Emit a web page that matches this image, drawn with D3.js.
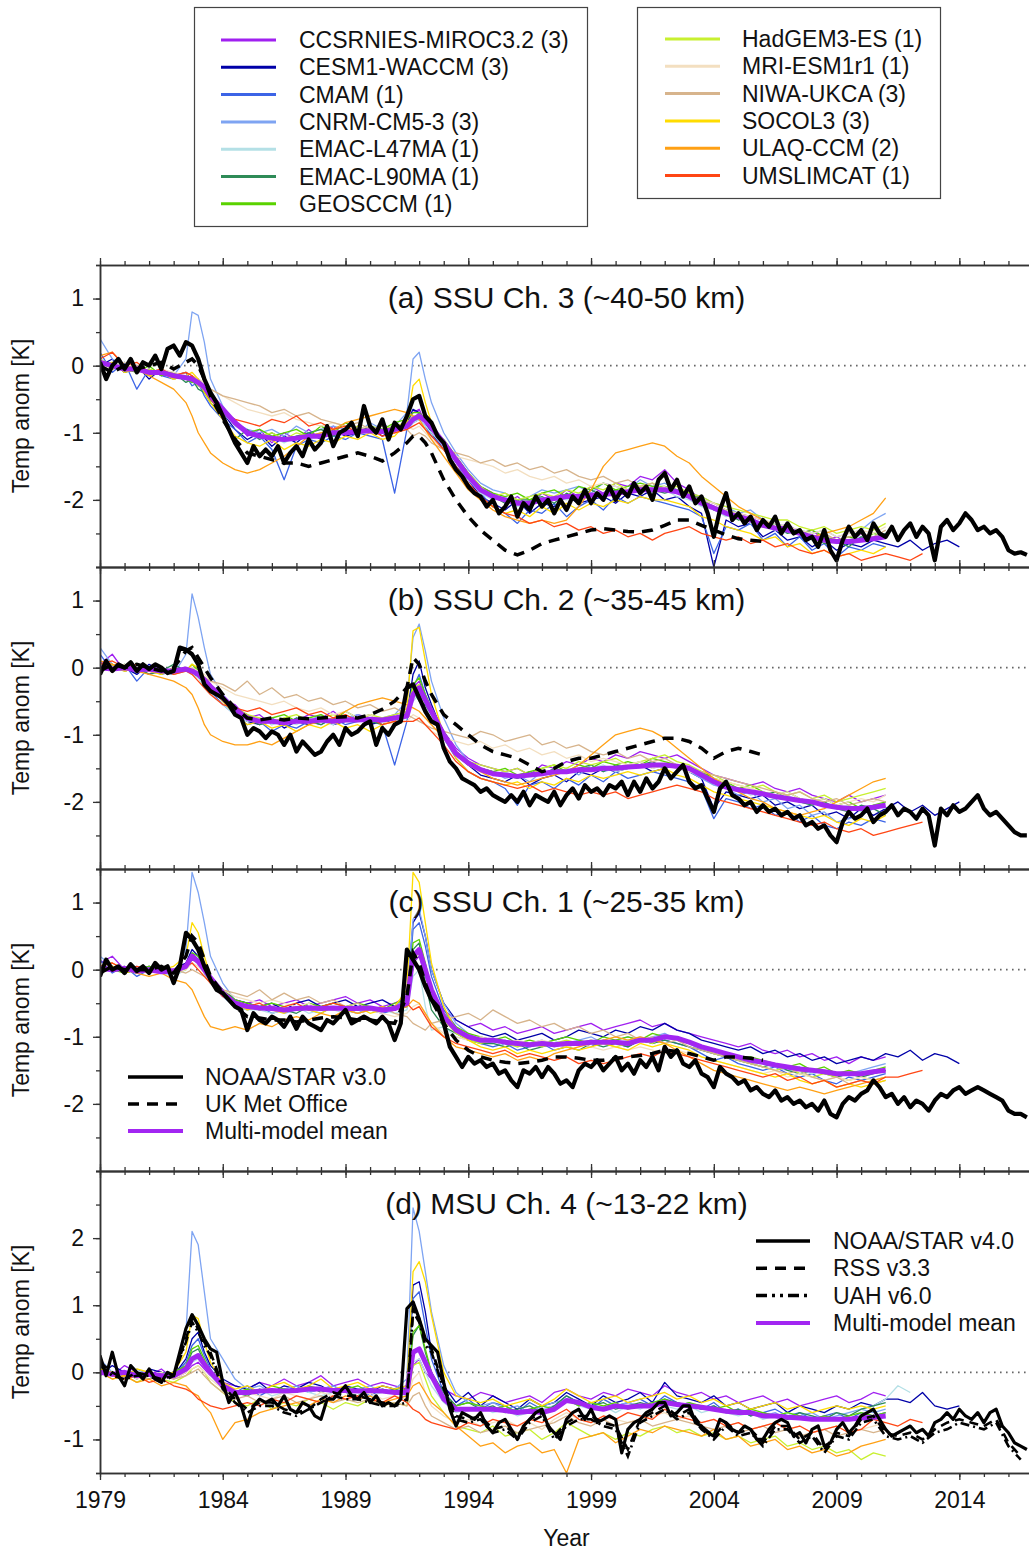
<!DOCTYPE html>
<html>
<head>
<meta charset="utf-8">
<script src="https://cdn.jsdelivr.net/npm/d3@7"></script>
<style>
  body { margin: 0; background: #fff; }
  svg { display: block; }
  text { font-family: "Liberation Sans", Arial, Helvetica, sans-serif; fill: #111; }
</style>
</head>
<body>
<svg id="chart" width="1029" height="1552"></svg>
<script>
// ---- time axes ----
// model / mean grid: half-yearly, quarterly around El Chichon and Pinatubo
const tModel = [1979, 1979.5, 1980, 1980.5, 1981, 1981.5, 1982, 1982.5, 1982.75, 1983, 1983.25, 1983.5,
  1984, 1984.5, 1985, 1985.5, 1986, 1986.5, 1987, 1987.5, 1988, 1988.5, 1989, 1989.5, 1990, 1990.5, 1991, 1991.5,
  1991.75, 1992, 1992.25, 1992.5,
  1993, 1993.5, 1994, 1994.5, 1995, 1995.5, 1996, 1996.5, 1997, 1997.5, 1998, 1998.5, 1999, 1999.5,
  2000, 2000.5, 2001, 2001.5, 2002, 2002.5, 2003, 2003.5, 2004, 2004.5, 2005, 2005.5, 2006, 2006.5,
  2007, 2007.5, 2008, 2008.5, 2009, 2009.5, 2010, 2010.5, 2011,
  2011.5, 2012, 2012.5, 2013, 2013.5, 2014];
const tLong = tModel.concat([2014.5, 2015, 2015.5, 2016, 2016.5]);
const tObs = d3.range(152).map(i => 1979 + i / 4);   // quarterly 1979.0 - 2016.75

const modelNames = ['CCSRNIES-MIROC3.2 (3)', 'CESM1-WACCM (3)', 'CMAM (1)', 'CNRM-CM5-3 (3)', 'EMAC-L47MA (1)',
  'EMAC-L90MA (1)', 'GEOSCCM (1)', 'HadGEM3-ES (1)', 'MRI-ESM1r1 (1)', 'NIWA-UKCA (3)', 'SOCOL3 (3)',
  'ULAQ-CCM (2)', 'UMSLIMCAT (1)'];
const modelColors = ['#a020f0', '#0000a8', '#3c64e6', '#7ea4f2', '#b4e0e6', '#2e8b57', '#5ad200',
  '#c8f030', '#f3dfc0', '#d7b48c', '#ffdc00', '#ffa014', '#ff4614'];

// ================= (a) SSU Ch. 3 =================
const a_noaa = [0.05,-0.2,0.0,0.1, -0.05,0.1,-0.1,0.05, 0.0,0.15,-0.05,0.25, 0.3,0.15,0.35,0.3,
  0.1,-0.2,-0.4,-0.55, -0.75,-0.95,-1.15,-1.3, -1.45,-1.2,-1.35,-1.25, -1.35,-1.2,-1.45,-1.3,
  -1.2,-1.35,-1.1,-1.25, -1.15,-0.9,-1.2,-1.0, -0.95,-0.85,-1.05,-0.6, -0.9,-1.0,-0.8,-1.1,
  -0.85,-0.95,-0.75,-0.5, -0.45,-0.75,-0.85,-1.05, -1.15,-1.4,-1.55,-1.65, -1.8,-1.9,-1.95,-2.1,
  -2.0,-2.2,-2.1,-1.95, -2.25,-2.05,-2.15,-1.95, -2.1,-2.0,-2.2,-2.0, -2.15,-1.95,-2.05,-1.85,
  -2.05,-1.9,-2.0,-1.8, -2.0,-1.85,-1.95,-1.75, -1.9,-1.8,-2.0,-1.7, -1.6,-1.85,-1.7,-1.95,
  -1.8,-2.05,-1.95,-2.2, -2.55,-2.15,-1.9,-2.3, -2.2,-2.35,-2.25,-2.45, -2.3,-2.4,-2.25,-2.5,
  -2.35,-2.5,-2.45,-2.6, -2.55,-2.7,-2.45,-2.75, -2.9,-2.6,-2.4,-2.55, -2.45,-2.6,-2.35,-2.5,
  -2.55,-2.4,-2.6,-2.45, -2.35,-2.55,-2.4,-2.5, -2.9,-2.4,-2.3,-2.45, -2.35,-2.2,-2.3,-2.45,
  -2.4,-2.5,-2.45,-2.55, -2.75,-2.8,-2.78,-2.82];
const a_ukmo = [0.0,-0.1,0.0,-0.05,0.0,0.05,-0.05,0.05, 0.1,0.0,-0.2,-0.45,
  -0.8,-1.1,-1.3,-1.35,-1.4,-1.45,-1.45,-1.5,-1.45,-1.4,-1.35,-1.3,-1.35,-1.42,-1.3,-1.15,
  -1.05,-1.05,-1.15,-1.3,
  -1.7,-2.0,-2.25,-2.45,-2.6,-2.75,-2.82,-2.75,-2.65,-2.6,-2.55,-2.5,-2.45,-2.43,-2.45,-2.47,-2.48,-2.45,
  -2.38,-2.3,-2.3,-2.38,-2.45,-2.52,-2.58,-2.6,-2.62];
const a_mean = [0.05,0.0,-0.05,-0.05,-0.1,-0.1,-0.15,-0.18, -0.2,-0.25,-0.32,-0.45,
  -0.65,-0.85,-1.0,-1.05,-1.08,-1.1,-1.08,-1.05,-1.05,-1.0,-1.0,-0.98,-0.97,-0.98,-0.95,-0.9,
  -0.8,-0.75,-0.82,-0.92,
  -1.15,-1.4,-1.65,-1.85,-1.95,-2.0,-2.05,-2.05,-2.0,-1.98,-1.95,-1.95,-1.93,-1.92,-1.9,-1.88,-1.85,-1.85,
  -1.85,-1.88,-1.95,-2.05,-2.12,-2.2,-2.25,-2.3,-2.38,-2.42,-2.45,-2.5,-2.55,-2.6,-2.62,-2.62,-2.6,-2.58,-2.55];
const a_ccsrnies = [0.1,-0.05,0.0,-0.1,-0.05,-0.15,-0.1,-0.2, -0.15,-0.3,-0.35,-0.5,
  -0.7,-0.8,-1.05,-0.95,-1.15,-1.0,-1.1,-0.95,-1.1,-0.9,-1.05,-0.9,-1.0,-0.85,-1.0,-0.85,
  -0.7,-0.65,-0.85,-0.9,
  -1.2,-1.35,-1.6,-1.8,-1.9,-2.05,-1.95,-2.1,-1.9,-2.0,-1.85,-1.95,-1.8,-1.9,-1.75,-1.8,-1.65,-1.7,-1.55,-1.75,
  -1.85,-2.0,-2.05,-2.15,-2.2,-2.25,-2.3,-2.45,-2.35,-2.5,-2.45,-2.6,-2.55,-2.65,-2.5,-2.6,-2.5];
const a_cesm = [0.0,0.1,-0.1,0.0,-0.2,-0.05,-0.15,-0.1, -0.25,-0.2,-0.4,-0.5,
  -0.7,-0.95,-1.1,-1.0,-1.2,-1.05,-1.15,-1.0,-1.1,-0.95,-1.05,-1.0,-0.9,-1.05,-0.95,-0.85,
  -0.65,-0.7,-0.85,-1.0,
  -1.25,-1.5,-1.7,-1.95,-2.05,-2.15,-2.0,-2.2,-2.05,-2.1,-1.95,-2.05,-2.0,-1.95,-2.05,-1.9,-1.95,-1.85,-2.0,-1.95,
  -2.1,-2.2,-3.0,-2.3,-2.4,-2.35,-2.55,-2.45,-2.6,-2.55,-2.7,-2.6,-2.75,-2.65,-2.7,-2.6,-2.65,
  -2.7,-2.6,-2.75,-2.65,-2.6,-2.7];
const a_cmam = [0.2,-0.1,0.05,-0.35,-0.05,-0.15,-0.2,-0.15, -0.3,-0.25,-0.45,-0.6,
  -0.8,-0.95,-1.15,-1.05,-1.25,-1.7,-1.2,-1.1,-1.15,-1.05,-1.1,-1.0,-1.05,-1.1,-1.9,-0.95,
  -0.85,-0.8,-0.9,-1.05,
  -1.2,-1.5,-1.7,-1.9,-2.1,-2.2,-2.35,-2.15,-2.2,-2.05,-2.25,-2.1,-2.0,-2.15,-1.95,-2.05,-1.95,-2.0,-2.05,-2.1,
  -2.15,-2.25,-2.8,-2.4,-2.45,-2.35,-2.6,-2.5,-2.7,-2.55,-2.75,-2.65,-2.85,-2.7,-2.75,-2.65,-2.7];
const a_cnrm = [0.4,0.1,0.0,-0.05,-0.1,-0.05,-0.15,0.1, 0.8,0.75,0.35,-0.2,
  -0.6,-0.85,-0.95,-1.0,-0.95,-1.05,-0.9,-1.0,-0.95,-0.9,-0.95,-1.0,-0.85,-0.95,-0.9,-0.7,
  0.1,0.2,-0.2,-0.55,
  -1.0,-1.3,-1.55,-1.75,-1.85,-1.9,-2.0,-1.95,-1.85,-1.9,-1.85,-1.8,-1.9,-1.75,-1.8,-1.85,-1.7,-1.8,-1.75,-1.85,
  -1.9,-1.95,-2.05,-2.1,-2.2,-2.15,-2.3,-2.35,-2.4,-2.45,-2.5,-2.45,-2.55,-2.5,-2.45,-2.3,-2.2];
const a_emac47 = [0.05,0.0,-0.05,0.0,-0.1,-0.05,-0.2,-0.15, -0.25,-0.3,-0.35,-0.5,
  -0.7,-0.9,-1.0,-1.1,-1.05,-1.15,-1.05,-1.1,-1.0,-1.05,-0.95,-1.0,-1.0,-0.95,-1.0,-0.9,
  -0.85,-0.8,-0.9,-1.0,
  -1.2,-1.45,-1.7,-1.9,-2.0,-1.95,-2.1,-2.0,-2.05,-1.95,-2.0,-1.9,-1.95,-1.9,-1.85,-1.9,-1.8,-1.9,-1.85,-1.95,
  -2.0,-2.1,-2.15,-2.25,-2.2,-2.35,-2.4,-2.45,-2.5,-2.45,-2.6,-2.55,-2.65,-2.6,-2.55,-2.6,-2.5];
const a_emac90 = [0.0,0.05,-0.1,-0.05,-0.15,-0.1,-0.1,-0.25, -0.2,-0.35,-0.4,-0.55,
  -0.75,-1.1,-0.95,-1.1,-1.0,-1.1,-1.05,-1.0,-0.95,-1.05,-0.95,-1.0,-0.9,-1.0,-0.95,-0.85,
  -0.8,-0.7,-0.85,-0.95,
  -1.15,-1.4,-1.6,-1.85,-1.95,-2.05,-2.0,-2.0,-1.95,-2.05,-1.9,-2.0,-1.85,-1.95,-1.85,-1.9,-1.8,-1.85,-1.9,-1.85,
  -1.95,-2.0,-2.15,-2.2,-2.3,-2.25,-2.4,-2.35,-2.5,-2.45,-2.55,-2.65,-2.6,-2.7,-2.55,-2.6,-2.5];
const a_geos = [0.1,0.0,-0.05,-0.1,0.0,-0.15,-0.1,-0.2, -0.25,-0.2,-0.4,-0.5,
  -0.7,-0.85,-1.0,-0.95,-1.05,-1.0,-0.95,-1.05,-0.9,-1.0,-0.85,-0.95,-0.9,-0.95,-0.85,-0.8,
  -0.7,-0.7,-0.8,-0.95,
  -1.1,-1.35,-1.6,-1.8,-1.9,-1.95,-1.9,-2.0,-1.9,-1.85,-1.95,-1.8,-1.85,-1.75,-1.85,-1.8,-1.75,-1.8,-1.8,-1.85,
  -1.9,-2.0,-2.1,-2.15,-2.2,-2.3,-2.35,-2.4,-2.45,-2.5,-2.45,-2.55,-2.6,-2.55,-2.6,-2.5,-2.55];
const a_hadgem = [0.05,-0.05,0.0,-0.1,-0.05,-0.1,-0.2,-0.15, -0.2,-0.3,-0.35,-0.45,
  -0.65,-0.85,-1.0,-1.05,-1.0,-1.1,-1.0,-1.05,-1.0,-0.95,-1.0,-0.9,-1.0,-0.95,-0.9,-0.85,
  -0.75,-0.75,-0.85,-0.95,
  -1.15,-1.4,-1.6,-1.8,-1.95,-1.9,-2.0,-1.95,-1.9,-1.95,-1.85,-1.9,-1.8,-1.85,-1.75,-1.85,-1.8,-1.75,-1.85,-1.8,
  -1.9,-1.95,-2.05,-2.1,-2.15,-2.2,-2.25,-2.3,-2.3,-2.4,-2.45,-2.4,-2.5,-2.45,-2.4,-2.45,-2.35];
const a_mri = [0.1,0.0,0.05,-0.05,-0.1,-0.05,-0.1,-0.15, -0.1,-0.2,-0.25,-0.35,
  -0.45,-0.55,-0.65,-0.7,-0.75,-0.7,-0.8,-0.85,-0.9,-0.85,-0.9,-0.95,-0.9,-1.0,-0.95,-0.9,
  -0.95,-0.9,-1.0,-1.1,
  -1.25,-1.35,-1.4,-1.45,-1.5,-1.6,-1.55,-1.65,-1.7,-1.65,-1.75,-1.7,-1.8,-1.75,-1.8,-1.85,-1.8,-1.85,-1.8,-1.9,
  -1.95,-2.0,-2.05,-2.15,-2.2,-2.25,-2.3,-2.35,-2.4,-2.45,-2.5,-2.45,-2.55,-2.5,-2.45,-2.5,-2.4];
const a_niwa = [0.05,0.0,-0.05,0.0,-0.1,-0.05,-0.15,-0.1, -0.15,-0.2,-0.3,-0.35,
  -0.45,-0.5,-0.55,-0.6,-0.7,-0.65,-0.75,-0.7,-0.8,-0.85,-0.9,-0.85,-0.95,-0.9,-1.0,-0.95,
  -1.05,-1.0,-1.05,-1.15,
  -1.25,-1.3,-1.35,-1.45,-1.4,-1.5,-1.45,-1.55,-1.5,-1.6,-1.55,-1.65,-1.7,-1.65,-1.75,-1.7,-1.8,-1.75,-1.85,-1.9,
  -1.95,-2.05,-2.1,-2.2,-2.25,-2.3,-2.35,-2.4,-2.45,-2.5,-2.55,-2.5,-2.6,-2.55,-2.5,-2.55,-2.45];
const a_socol = [0.0,0.05,-0.1,-0.05,-0.15,-0.1,-0.2,-0.15, -0.1,-0.2,-0.4,-0.55,
  -0.8,-1.05,-1.15,-1.2,-1.1,-1.25,-1.15,-1.2,-1.1,-1.15,-1.05,-1.1,-1.0,-1.1,-1.05,-0.85,
  -0.3,-0.2,-0.55,-0.85,
  -1.2,-1.55,-1.8,-2.0,-2.1,-2.2,-2.15,-2.25,-2.1,-2.2,-2.05,-2.15,-2.05,-2.1,-2.0,-2.05,-1.95,-2.0,-2.0,-2.05,
  -2.1,-2.25,-2.3,-2.4,-2.45,-2.5,-2.6,-2.55,-2.7,-2.65,-2.8,-2.75,-2.85,-2.8,-2.75,-2.8,-2.7];
const a_ulaq = [0.15,0.2,0.0,-0.05,-0.15,-0.25,-0.35,-0.55, -0.75,-1.0,-1.15,-1.3,
  -1.45,-1.55,-1.6,-1.55,-1.45,-1.35,-1.2,-1.05,-1.0,-0.95,-0.85,-0.8,-0.75,-0.7,-0.65,-0.7,
  -0.75,-0.8,-0.95,-1.1,
  -1.35,-1.6,-1.85,-2.0,-2.15,-2.25,-2.3,-2.35,-2.3,-2.35,-2.3,-2.1,-1.85,-1.5,-1.3,-1.25,-1.2,-1.15,-1.2,-1.35,
  -1.45,-1.65,-1.8,-1.95,-2.1,-2.2,-2.3,-2.4,-2.45,-2.5,-2.55,-2.5,-2.45,-2.4,-2.3,-2.2,-1.97];
const a_umslim = [0.1,0.2,0.0,0.05,-0.1,-0.05,-0.15,-0.1, -0.15,-0.25,-0.35,-0.5,
  -0.7,-0.8,-0.85,-0.9,-0.8,-0.85,-0.75,-0.9,-0.85,-0.95,-0.9,-1.0,-0.95,-1.05,-1.0,-0.95,
  -0.9,-0.85,-0.95,-1.05,
  -1.25,-1.5,-1.75,-1.95,-2.1,-2.2,-2.25,-2.35,-2.3,-2.4,-2.35,-2.45,-2.4,-2.5,-2.45,-2.55,-2.5,-2.6,-2.5,-2.45,
  -2.4,-2.5,-2.55,-2.6,-2.55,-2.65,-2.6,-2.7,-2.65,-2.75,-2.8,-2.75,-2.85,-2.8,-2.9,-2.85,-2.8,
  -2.85,-2.9,-2.8];

// ================= (b) SSU Ch. 2 =================
const b_noaa = [-0.1,0.1,-0.05,0.05, 0.0,0.08,-0.05,0.05, -0.02,0.05,0.0,-0.08, -0.05,0.3,0.27,0.2,
  0.05,-0.25,-0.35,-0.4, -0.45,-0.55,-0.7,-0.75, -1.0,-0.9,-0.95,-1.05, -0.95,-1.0,-1.15,-1.0,
  -1.25,-1.1,-1.2,-1.3, -1.25,-1.1,-1.0,-1.15, -0.9,-1.0,-0.95,-0.85, -0.8,-1.15,-0.9,-1.0,
  -0.85,-0.8,-0.3,-0.25, -0.45,-0.65,-0.8,-0.85, -1.2,-1.4,-1.5,-1.65, -1.7,-1.75,-1.85,-1.8,
  -1.9,-1.95,-2.0,-1.9, -2.0,-1.85,-2.05,-1.9, -1.95,-2.0,-1.85,-2.05, -1.9,-1.8,-1.95,-1.75,
  -1.85,-1.8,-1.9,-1.75, -1.8,-1.7,-1.9,-1.7, -1.85,-1.65,-1.8,-1.7, -1.5,-1.65,-1.55,-1.45,
  -1.7,-1.8,-1.75,-1.95, -2.15,-1.8,-1.7,-1.9, -1.95,-2.05,-2.0,-2.15, -2.05,-2.15,-2.1,-2.2,
  -2.15,-2.25,-2.2,-2.35, -2.3,-2.4,-2.35,-2.5, -2.6,-2.3,-2.15,-2.25, -2.2,-2.1,-2.3,-2.2,
  -2.15,-2.05,-2.2,-2.1, -2.15,-2.25,-2.1,-2.2, -2.65,-2.1,-2.2,-2.05, -2.15,-2.1,-2.0,-1.9,
  -2.1,-2.2,-2.15,-2.25, -2.35,-2.45,-2.5,-2.5];
const b_ukmo = [-0.05,0.05,0.0,0.05,0.0,-0.05,0.0,0.25, 0.3,0.15,0.0,-0.15,
  -0.4,-0.6,-0.75,-0.78,-0.75,-0.78,-0.75,-0.76,-0.75,-0.74,-0.73,-0.75,-0.7,-0.62,-0.5,-0.3,
  0.15,0.05,-0.2,-0.4,
  -0.7,-0.85,-1.0,-1.15,-1.25,-1.3,-1.35,-1.45,-1.55,-1.5,-1.4,-1.35,-1.35,-1.3,-1.25,-1.2,-1.15,-1.1,
  -1.05,-1.05,-1.1,-1.2,-1.35,-1.25,-1.2,-1.25,-1.3];
const b_mean = [0.0,-0.02,0.0,-0.03,-0.02,-0.05,-0.05,-0.02, -0.05,-0.1,-0.18,-0.28,
  -0.45,-0.62,-0.75,-0.8,-0.8,-0.82,-0.8,-0.8,-0.78,-0.8,-0.78,-0.78,-0.77,-0.78,-0.75,-0.72,
  -0.4,-0.3,-0.48,-0.65,
  -1.0,-1.28,-1.42,-1.52,-1.58,-1.6,-1.62,-1.6,-1.58,-1.55,-1.55,-1.52,-1.52,-1.5,-1.5,-1.48,-1.47,-1.45,
  -1.45,-1.47,-1.5,-1.6,-1.7,-1.78,-1.82,-1.85,-1.88,-1.92,-1.95,-1.98,-2.0,-2.05,-2.08,-2.1,-2.1,-2.08,-2.05];
const b_ccsrnies = [0.05,0.2,-0.05,0.0,-0.1,0.0,-0.1,0.0, 0.0,-0.05,-0.2,-0.25,
  -0.5,-0.55,-0.75,-0.7,-0.85,-0.75,-0.8,-0.7,-0.75,-0.65,-0.8,-0.7,-0.75,-0.8,-0.7,-0.65,
  -0.3,-0.2,-0.45,-0.6,
  -0.95,-1.2,-1.35,-1.45,-1.5,-1.55,-1.5,-1.6,-1.45,-1.5,-1.4,-1.45,-1.35,-1.4,-1.3,-1.35,-1.25,-1.3,-1.35,-1.3,
  -1.4,-1.5,-1.6,-1.65,-1.7,-1.75,-1.7,-1.8,-1.85,-1.8,-1.9,-1.95,-2.0,-1.9,-2.0,-1.95,-1.9];
const b_cesm = [-0.05,0.05,0.0,-0.1,0.05,-0.05,-0.1,0.0, -0.05,-0.15,-0.2,-0.3,
  -0.5,-0.7,-0.8,-0.85,-0.75,-0.9,-0.8,-0.85,-0.75,-0.85,-0.8,-0.75,-0.85,-0.8,-0.75,-0.7,
  -0.1,0.1,-0.3,-0.55,
  -1.0,-1.3,-1.45,-1.6,-1.65,-1.7,-1.6,-1.75,-1.65,-1.6,-1.7,-1.55,-1.6,-1.5,-1.55,-1.5,-1.45,-1.55,-1.5,-1.45,
  -1.55,-1.65,-2.1,-1.85,-1.9,-1.95,-1.9,-2.05,-2.0,-2.1,-2.05,-2.2,-2.15,-2.25,-2.1,-2.2,-2.1,
  -2.0,-2.15,-2.05,-2.2,-2.1,-2.0];
const b_cmam = [0.2,-0.05,0.05,-0.2,0.0,-0.1,-0.05,0.0, -0.05,-0.1,-0.25,-0.35,
  -0.55,-0.7,-0.85,-0.8,-0.95,-0.85,-0.9,-0.8,-0.85,-0.75,-0.85,-0.8,-0.75,-0.85,-1.45,-0.8,
  -0.3,-0.1,-0.4,-0.6,
  -1.05,-1.35,-1.55,-1.65,-1.7,-1.8,-2.05,-1.75,-1.7,-1.8,-1.65,-1.75,-1.6,-1.7,-1.55,-1.65,-1.6,-1.55,-1.6,-1.65,
  -1.7,-1.8,-2.25,-1.95,-2.0,-2.1,-2.05,-2.2,-2.15,-2.3,-2.2,-2.35,-2.4,-2.3,-2.35,-2.25,-2.3];
const b_cnrm = [0.3,0.05,0.0,-0.05,-0.05,0.0,-0.1,0.2, 1.1,0.75,0.3,-0.1,
  -0.4,-0.6,-0.75,-0.8,-0.75,-0.85,-0.75,-0.8,-0.7,-0.8,-0.75,-0.7,-0.8,-0.75,-0.7,-0.5,
  0.45,0.65,0.25,-0.2,
  -0.75,-1.15,-1.4,-1.5,-1.55,-1.65,-1.6,-1.7,-1.55,-1.6,-1.5,-1.6,-1.45,-1.55,-1.5,-1.45,-1.4,-1.5,-1.45,-1.5,
  -1.55,-1.65,-1.75,-1.8,-1.9,-1.85,-2.0,-1.95,-2.1,-2.05,-2.2,-2.15,-2.3,-2.25,-2.2,-2.1,-2.0];
const b_emac47 = [0.05,-0.05,0.0,0.05,-0.05,-0.1,0.0,-0.05, -0.1,-0.15,-0.3,-0.4,
  -0.55,-0.7,-0.8,-0.75,-0.85,-0.8,-0.85,-0.75,-0.8,-0.85,-0.75,-0.8,-0.8,-0.75,-0.8,-0.75,
  -0.5,-0.4,-0.6,-0.7,
  -1.05,-1.3,-1.45,-1.5,-1.6,-1.55,-1.65,-1.6,-1.55,-1.6,-1.5,-1.55,-1.5,-1.45,-1.55,-1.5,-1.4,-1.45,-1.5,-1.45,
  -1.5,-1.6,-1.7,-1.75,-1.8,-1.9,-1.85,-1.95,-1.9,-2.0,-2.05,-2.0,-2.1,-2.05,-2.15,-2.05,-2.1];
const b_emac90 = [0.0,0.05,-0.05,0.0,-0.1,-0.05,0.05,-0.05, -0.05,-0.1,-0.2,-0.3,
  -0.5,-0.65,-0.75,-0.85,-0.8,-0.85,-0.75,-0.8,-0.85,-0.75,-0.8,-0.75,-0.8,-0.85,-0.75,-0.7,
  -0.35,-0.5,-0.55,-0.7,
  -1.0,-1.25,-1.4,-1.5,-1.55,-1.6,-1.65,-1.55,-1.6,-1.5,-1.55,-1.5,-1.45,-1.55,-1.45,-1.5,-1.45,-1.4,-1.5,-1.45,
  -1.5,-1.55,-1.65,-1.75,-1.8,-1.85,-1.9,-1.85,-1.95,-2.0,-2.05,-2.0,-2.1,-2.15,-2.05,-2.1,-2.2];
const b_geos = [0.0,-0.05,0.05,-0.05,0.0,-0.1,0.0,-0.05, 0.05,-0.05,-0.15,-0.3,
  -0.45,-0.6,-0.7,-0.8,-0.75,-0.7,-0.8,-0.75,-0.7,-0.8,-0.65,-0.75,-0.7,-0.8,-0.75,-0.65,
  -0.25,-0.15,-0.4,-0.6,
  -0.95,-1.25,-1.4,-1.5,-1.55,-1.5,-1.6,-1.55,-1.5,-1.45,-1.55,-1.45,-1.5,-1.4,-1.45,-1.4,-1.45,-1.35,-1.4,-1.45,
  -1.5,-1.55,-1.65,-1.7,-1.8,-1.75,-1.85,-1.9,-1.85,-1.95,-2.0,-1.95,-2.05,-2.0,-2.1,-2.05,-2.0];
const b_hadgem = [0.05,0.0,-0.05,0.0,-0.05,0.0,-0.1,0.0, 0.0,-0.1,-0.2,-0.3,
  -0.45,-0.6,-0.7,-0.75,-0.8,-0.75,-0.7,-0.8,-0.75,-0.7,-0.75,-0.8,-0.7,-0.75,-0.7,-0.65,
  -0.3,-0.25,-0.45,-0.65,
  -1.0,-1.25,-1.4,-1.45,-1.5,-1.55,-1.5,-1.6,-1.5,-1.45,-1.5,-1.4,-1.45,-1.4,-1.35,-1.45,-1.4,-1.35,-1.3,-1.4,
  -1.45,-1.55,-1.6,-1.7,-1.75,-1.8,-1.75,-1.85,-1.9,-1.85,-1.95,-1.9,-2.0,-1.95,-1.9,-1.85,-1.8];
const b_mri = [0.05,0.0,0.05,-0.05,0.0,-0.05,-0.05,0.0, 0.0,-0.05,-0.1,-0.2,
  -0.3,-0.4,-0.45,-0.5,-0.55,-0.5,-0.6,-0.65,-0.6,-0.7,-0.65,-0.75,-0.7,-0.8,-0.85,-0.8,
  -0.7,-0.75,-0.85,-0.95,
  -1.05,-1.1,-1.15,-1.1,-1.2,-1.15,-1.25,-1.2,-1.3,-1.25,-1.35,-1.3,-1.4,-1.35,-1.4,-1.45,-1.4,-1.5,-1.45,-1.5,
  -1.55,-1.6,-1.65,-1.7,-1.75,-1.8,-1.85,-1.9,-1.85,-1.95,-2.0,-1.95,-2.05,-2.0,-1.95,-2.0,-1.9];
const b_niwa = [0.0,0.05,-0.05,0.0,-0.05,0.0,-0.1,-0.05, -0.05,-0.1,-0.15,-0.2,
  -0.25,-0.35,-0.2,-0.4,-0.3,-0.45,-0.4,-0.5,-0.45,-0.55,-0.5,-0.6,-0.55,-0.65,-0.6,-0.7,
  -0.75,-0.8,-0.85,-0.9,
  -0.95,-1.0,-1.05,-0.95,-1.0,-1.1,-1.05,-1.0,-1.15,-1.1,-1.2,-1.15,-1.25,-1.3,-1.25,-1.35,-1.3,-1.4,-1.35,-1.45,
  -1.5,-1.55,-1.6,-1.65,-1.7,-1.75,-1.8,-1.85,-1.9,-1.85,-1.95,-2.0,-1.95,-2.05,-2.0,-1.95,-2.0];
const b_socol = [0.0,0.05,-0.05,0.0,-0.05,-0.1,0.0,-0.05, 0.05,0.0,-0.15,-0.3,
  -0.5,-0.7,-0.85,-0.8,-0.9,-0.85,-0.95,-0.85,-0.9,-0.8,-0.9,-0.85,-0.95,-0.85,-0.8,-0.6,
  0.55,0.6,0.1,-0.4,
  -1.0,-1.35,-1.55,-1.65,-1.7,-1.75,-1.7,-1.8,-1.7,-1.75,-1.65,-1.7,-1.6,-1.65,-1.6,-1.55,-1.6,-1.55,-1.5,-1.6,
  -1.65,-1.75,-1.85,-1.9,-1.95,-2.0,-2.05,-2.1,-2.15,-2.2,-2.25,-2.2,-2.3,-2.35,-2.25,-2.3,-2.2];
const b_ulaq = [0.1,0.05,0.0,-0.05,-0.1,-0.15,-0.2,-0.3, -0.4,-0.6,-0.85,-1.0,
  -1.1,-1.15,-1.15,-1.1,-1.15,-1.05,-0.95,-0.85,-0.8,-0.75,-0.65,-0.55,-0.5,-0.45,-0.5,-0.55,
  -0.6,-0.65,-0.75,-0.85,
  -1.05,-1.3,-1.45,-1.55,-1.65,-1.7,-1.75,-1.7,-1.65,-1.6,-1.55,-1.45,-1.3,-1.15,-1.0,-0.95,-0.9,-0.95,-1.05,-1.2,
  -1.35,-1.5,-1.65,-1.75,-1.85,-1.95,-2.0,-2.1,-2.15,-2.2,-2.15,-2.1,-2.0,-1.9,-1.8,-1.7,-1.65];
const b_umslim = [0.05,0.1,0.0,0.05,-0.05,0.0,-0.1,-0.05, -0.1,-0.2,-0.3,-0.4,
  -0.55,-0.6,-0.65,-0.6,-0.7,-0.65,-0.6,-0.7,-0.65,-0.75,-0.7,-0.8,-0.75,-0.85,-0.8,-0.8,
  -0.8,-0.75,-0.85,-0.95,
  -1.15,-1.4,-1.55,-1.65,-1.7,-1.75,-1.8,-1.75,-1.85,-1.8,-1.85,-1.9,-1.85,-1.9,-1.85,-1.95,-1.9,-1.85,-1.8,-1.75,
  -1.8,-1.85,-1.95,-2.0,-2.05,-2.1,-2.15,-2.2,-2.25,-2.3,-2.35,-2.3,-2.4,-2.45,-2.4,-2.5,-2.45,
  -2.4,-2.35,-2.3];

// ================= (c) SSU Ch. 1 =================
const c_noaa = [-0.1,0.15,0.0,0.05, -0.05,0.08,-0.02,0.05, -0.05,0.1,0.0,0.05, -0.2,0.05,0.55,0.45,
  0.3,0.05,-0.15,-0.3, -0.35,-0.45,-0.55,-0.6, -0.9,-0.65,-0.75,-0.8, -0.7,-0.75,-0.85,-0.7,
  -0.88,-0.7,-0.8,-0.85, -0.9,-0.75,-0.8,-0.7, -0.6,-0.8,-0.75,-0.7, -0.75,-0.8,-0.7,-0.8,
  -1.05,-0.8,0.3,0.15, 0.0,-0.25,-0.45,-0.55, -0.8,-1.15,-1.3,-1.45, -1.3,-1.4,-1.35,-1.45,
  -1.4,-1.55,-1.5,-1.65, -1.75,-1.5,-1.55,-1.45, -1.6,-1.45,-1.55,-1.7, -1.65,-1.75,-1.5,-1.4,
  -1.45,-1.35,-1.5,-1.4, -1.3,-1.5,-1.4,-1.55, -1.35,-1.45,-1.3,-1.5, -1.15,-1.3,-1.2,-1.4,
  -1.45,-1.35,-1.55,-1.6, -1.75,-1.45,-1.55,-1.6, -1.7,-1.65,-1.8,-1.75, -1.85,-1.9,-1.8,-1.95,
  -1.9,-2.0,-1.95,-2.05, -2.0,-2.1,-1.95,-2.15, -2.2,-2.0,-1.9,-1.95, -1.85,-1.8,-1.65,-1.75,
  -1.9,-1.85,-2.0,-1.9, -2.05,-1.95,-2.0,-2.1, -1.95,-1.85,-1.9,-1.8, -1.75,-1.85,-1.8,-1.75,
  -1.8,-1.85,-1.9,-1.95, -2.1,-2.15,-2.15,-2.2];
const c_ukmo = [-0.05,0.05,0.0,0.0,0.0,0.05,-0.05,0.2, 0.5,0.4,0.15,-0.1,
  -0.35,-0.55,-0.7,-0.72,-0.75,-0.75,-0.78,-0.75,-0.72,-0.7,-0.72,-0.75,-0.75,-0.78,-0.8,-0.4,
  0.25,0.1,-0.2,-0.45,
  -0.8,-1.05,-1.2,-1.3,-1.35,-1.38,-1.4,-1.38,-1.35,-1.3,-1.3,-1.32,-1.35,-1.35,-1.32,-1.3,-1.28,-1.25,
  -1.2,-1.22,-1.25,-1.3,-1.35,-1.3,-1.3,-1.32,-1.35];
const c_mean = [0.02,0.0,0.02,-0.02,0.0,-0.03,-0.02,0.05, 0.2,0.12,0.0,-0.12,
  -0.35,-0.5,-0.55,-0.57,-0.58,-0.6,-0.58,-0.57,-0.58,-0.57,-0.58,-0.58,-0.57,-0.6,-0.58,-0.5,
  0.2,0.3,0.0,-0.3,
  -0.7,-0.9,-1.0,-1.05,-1.05,-1.08,-1.1,-1.12,-1.1,-1.12,-1.1,-1.1,-1.08,-1.08,-1.08,-1.1,-1.05,-1.05,
  -1.0,-1.02,-1.08,-1.15,-1.2,-1.25,-1.3,-1.35,-1.38,-1.42,-1.45,-1.48,-1.5,-1.52,-1.55,-1.55,-1.55,-1.52,-1.5];
const c_ccsrnies = [0.1,0.2,0.0,0.05,-0.05,0.05,0.0,0.1, 0.15,0.1,0.0,-0.1,
  -0.3,-0.45,-0.5,-0.45,-0.55,-0.5,-0.45,-0.55,-0.5,-0.45,-0.4,-0.5,-0.45,-0.55,-0.5,-0.4,
  0.1,0.2,-0.1,-0.35,
  -0.6,-0.75,-0.85,-0.8,-0.9,-0.85,-0.95,-0.9,-0.85,-0.95,-0.9,-0.85,-0.8,-0.9,-0.85,-0.8,-0.75,-0.85,-0.8,-0.9,
  -0.95,-1.0,-1.05,-1.1,-1.15,-1.1,-1.2,-1.25,-1.2,-1.3,-1.25,-1.35,-1.3,-1.4,-1.3,-1.35,-1.3];
const c_cesm = [0.0,0.05,-0.05,0.0,0.05,-0.05,0.0,0.1, 0.3,0.2,0.0,-0.1,
  -0.3,-0.45,-0.5,-0.55,-0.5,-0.6,-0.5,-0.45,-0.55,-0.5,-0.45,-0.55,-0.5,-0.45,-0.55,-0.4,
  0.7,0.85,0.5,0.0,
  -0.5,-0.75,-0.85,-0.95,-1.0,-0.95,-1.05,-1.0,-0.95,-1.05,-1.0,-0.9,-0.95,-1.0,-0.9,-0.95,-0.85,-0.9,-0.8,-0.9,
  -0.95,-1.05,-1.1,-1.15,-1.2,-1.15,-1.25,-1.2,-1.3,-1.25,-1.35,-1.3,-1.4,-1.35,-1.3,-1.35,-1.25,
  -1.3,-1.2,-1.35,-1.25,-1.3,-1.4];
const c_cmam = [0.15,-0.05,0.05,-0.1,0.0,-0.05,0.0,0.05, 0.25,0.15,-0.05,-0.2,
  -0.4,-0.55,-0.6,-0.55,-0.65,-0.6,-0.55,-0.6,-0.65,-0.55,-0.6,-0.55,-0.6,-0.65,-0.6,-0.5,
  0.6,0.7,0.35,-0.1,
  -0.6,-0.85,-1.0,-1.1,-1.15,-1.1,-1.2,-1.15,-1.1,-1.2,-1.15,-1.1,-1.15,-1.05,-1.1,-1.15,-1.05,-1.1,-1.05,-1.1,
  -1.15,-1.25,-1.35,-1.3,-1.4,-1.45,-1.5,-1.45,-1.55,-1.6,-1.55,-1.65,-1.7,-1.6,-1.65,-1.6,-1.55];
const c_cnrm = [0.2,0.05,0.0,-0.05,0.05,0.0,-0.05,0.3, 1.45,1.15,0.7,0.2,
  -0.2,-0.45,-0.55,-0.6,-0.55,-0.65,-0.6,-0.55,-0.6,-0.55,-0.6,-0.65,-0.55,-0.6,-0.55,-0.4,
  0.75,0.9,0.5,0.0,
  -0.5,-0.8,-0.95,-1.05,-1.1,-1.05,-1.15,-1.1,-1.05,-1.15,-1.1,-1.05,-1.0,-1.1,-1.05,-1.0,-1.05,-1.0,-0.95,-1.05,
  -1.1,-1.2,-1.25,-1.3,-1.35,-1.3,-1.4,-1.45,-1.5,-1.45,-1.55,-1.5,-1.6,-1.55,-1.5,-1.45,-1.4];
const c_emac47 = [0.05,0.0,0.05,-0.05,0.0,-0.05,-0.1,0.0, 0.15,0.1,-0.05,-0.2,
  -0.4,-0.55,-0.6,-0.6,-0.65,-0.6,-0.55,-0.65,-0.6,-0.6,-0.65,-0.6,-0.55,-0.6,-0.65,-0.6,
  -0.1,0.0,-0.55,-0.9,
  -0.85,-1.0,-1.05,-1.1,-1.05,-1.15,-1.1,-1.15,-1.1,-1.05,-1.15,-1.1,-1.05,-1.1,-1.1,-1.05,-1.0,-1.05,-1.1,-1.05,
  -1.1,-1.2,-1.25,-1.3,-1.35,-1.4,-1.4,-1.45,-1.5,-1.5,-1.55,-1.5,-1.6,-1.55,-1.6,-1.55,-1.5];
const c_emac90 = [0.0,0.05,0.0,-0.05,0.05,0.0,-0.05,0.05, 0.2,0.1,-0.05,-0.15,
  -0.35,-0.5,-0.55,-0.6,-0.55,-0.6,-0.65,-0.55,-0.6,-0.55,-0.6,-0.65,-0.6,-0.55,-0.6,-0.55,
  0.3,0.4,-0.2,-0.6,
  -0.85,-0.95,-1.05,-1.1,-1.1,-1.15,-1.1,-1.2,-1.15,-1.1,-1.15,-1.2,-1.1,-1.15,-1.1,-1.15,-1.05,-1.1,-1.05,-1.1,
  -1.15,-1.2,-1.25,-1.3,-1.35,-1.4,-1.45,-1.4,-1.5,-1.55,-1.5,-1.55,-1.6,-1.55,-1.6,-1.55,-1.5];
const c_geos = [0.05,0.0,-0.05,0.0,0.05,-0.05,0.0,0.05, 0.25,0.2,0.05,-0.1,
  -0.3,-0.45,-0.5,-0.55,-0.5,-0.55,-0.6,-0.5,-0.55,-0.5,-0.55,-0.5,-0.55,-0.6,-0.5,-0.45,
  0.4,0.45,0.1,-0.3,
  -0.65,-0.85,-0.95,-1.0,-1.05,-1.0,-1.1,-1.05,-1.1,-1.05,-1.0,-1.05,-1.1,-1.0,-1.05,-1.0,-1.05,-0.95,-1.0,-1.05,
  -1.1,-1.15,-1.2,-1.25,-1.3,-1.3,-1.35,-1.4,-1.45,-1.4,-1.5,-1.45,-1.55,-1.5,-1.55,-1.5,-1.45];
const c_hadgem = [0.0,0.05,0.0,-0.05,0.0,0.05,-0.05,0.0, 0.15,0.1,0.0,-0.15,
  -0.35,-0.5,-0.55,-0.6,-0.55,-0.6,-0.55,-0.6,-0.55,-0.6,-0.55,-0.6,-0.55,-0.6,-0.6,-0.5,
  0.15,0.25,-0.05,-0.35,
  -0.75,-0.95,-1.05,-1.1,-1.05,-1.1,-1.15,-1.1,-1.15,-1.1,-1.05,-1.1,-1.05,-1.1,-1.15,-1.1,-1.05,-1.1,-1.0,-1.05,
  -1.1,-1.15,-1.25,-1.3,-1.35,-1.4,-1.45,-1.5,-1.45,-1.55,-1.6,-1.55,-1.6,-1.65,-1.6,-1.65,-1.6];
const c_mri = [0.0,0.05,0.0,0.0,-0.05,0.0,-0.05,0.0, 0.1,0.05,-0.05,-0.15,
  -0.3,-0.4,-0.45,-0.5,-0.45,-0.5,-0.55,-0.5,-0.6,-0.55,-0.6,-0.65,-0.6,-0.65,-0.7,-0.65,
  -0.55,-0.5,-0.65,-0.8,
  -0.95,-1.0,-1.05,-1.0,-1.05,-1.1,-1.05,-1.1,-1.05,-1.1,-1.15,-1.1,-1.15,-1.2,-1.15,-1.2,-1.15,-1.2,-1.25,-1.2,
  -1.25,-1.3,-1.35,-1.4,-1.45,-1.5,-1.55,-1.5,-1.6,-1.55,-1.6,-1.65,-1.6,-1.65,-1.6,-1.65,-1.6];
const c_niwa = [0.05,0.0,0.05,-0.05,0.0,-0.05,0.0,-0.05, 0.0,-0.05,-0.1,-0.2,
  -0.3,-0.35,-0.4,-0.3,-0.45,-0.35,-0.45,-0.4,-0.5,-0.45,-0.55,-0.5,-0.6,-0.55,-0.65,-0.7,
  -0.8,-0.85,-0.9,-0.8,
  -0.75,-0.7,-0.65,-0.75,-0.6,-0.7,-0.8,-0.75,-0.85,-0.8,-0.9,-0.85,-0.95,-0.9,-1.0,-0.95,-1.05,-1.0,-1.1,-1.05,
  -1.15,-1.2,-1.25,-1.3,-1.35,-1.4,-1.45,-1.5,-1.55,-1.5,-1.6,-1.65,-1.6,-1.7,-1.65,-1.7,-1.65];
const c_socol = [0.0,0.05,-0.05,0.0,-0.05,0.0,0.05,0.2, 0.7,0.55,0.2,-0.1,
  -0.35,-0.5,-0.6,-0.55,-0.6,-0.65,-0.55,-0.6,-0.65,-0.55,-0.6,-0.55,-0.65,-0.6,-0.55,-0.3,
  1.45,1.3,0.7,0.1,
  -0.55,-0.9,-1.05,-1.15,-1.2,-1.15,-1.25,-1.2,-1.25,-1.2,-1.15,-1.2,-1.15,-1.1,-1.15,-1.2,-1.1,-1.15,-1.1,-1.15,
  -1.2,-1.3,-1.35,-1.4,-1.45,-1.5,-1.55,-1.6,-1.55,-1.65,-1.7,-1.65,-1.75,-1.7,-1.75,-1.7,-1.65];
const c_ulaq = [0.05,0.1,0.0,-0.05,-0.1,-0.05,-0.15,-0.2, -0.3,-0.5,-0.7,-0.85,
  -0.9,-0.85,-0.9,-0.8,-0.85,-0.75,-0.7,-0.75,-0.65,-0.7,-0.6,-0.65,-0.6,-0.55,-0.6,-0.55,
  -0.45,-0.5,-0.65,-0.8,
  -1.0,-1.15,-1.2,-1.25,-1.3,-1.25,-1.35,-1.3,-1.35,-1.25,-1.2,-1.15,-1.1,-1.05,-1.0,-1.05,-1.0,-1.05,-1.1,-1.2,
  -1.3,-1.4,-1.5,-1.55,-1.6,-1.65,-1.7,-1.75,-1.8,-1.75,-1.8,-1.85,-1.8,-1.75,-1.7,-1.65,-1.6];
const c_umslim = [0.05,0.1,0.0,0.05,0.0,-0.05,0.0,0.05, 0.1,0.0,-0.1,-0.2,
  -0.4,-0.5,-0.55,-0.5,-0.6,-0.55,-0.5,-0.6,-0.55,-0.5,-0.55,-0.6,-0.55,-0.6,-0.55,-0.5,
  -0.6,-0.55,-0.7,-0.85,
  -1.0,-1.1,-1.15,-1.2,-1.25,-1.2,-1.3,-1.25,-1.3,-1.35,-1.3,-1.4,-1.35,-1.4,-1.35,-1.3,-1.25,-1.3,-1.2,-1.25,
  -1.3,-1.35,-1.4,-1.45,-1.5,-1.55,-1.6,-1.55,-1.65,-1.6,-1.7,-1.65,-1.75,-1.7,-1.65,-1.7,-1.6,
  -1.6,-1.55,-1.5];

// ================= (d) MSU Ch. 4 =================
const d_noaa = [0.25,-0.05,0.3,-0.05, -0.2,0.1,0.0,-0.1, 0.05,-0.1,-0.15,0.0, -0.05,0.3,0.65,0.86,
  0.7,0.5,0.35,0.3, -0.15,-0.45,-0.3,-0.5, -0.8,-0.5,-0.4,-0.45, -0.4,-0.5,-0.35,-0.55,
  -0.6,-0.45,-0.5,-0.65, -0.7,-0.4,-0.4,-0.3, -0.2,-0.35,-0.4,-0.3, -0.45,-0.35,-0.5,-0.45,
  -0.5,-0.4,0.95,1.05, 0.8,0.5,0.4,0.3, -0.15,-0.55,-0.8,-0.6, -0.65,-0.7,-0.6,-0.8,
  -0.9,-0.75,-0.7,-0.85, -1.0,-0.8,-0.7,-0.6, -0.55,-0.8,-0.9,-1.0, -0.7,-0.6,-0.55,-0.7,
  -0.55,-0.75,-0.7,-0.65, -0.7,-1.2,-0.85,-0.75, -0.7,-0.6,-0.55,-0.45, -0.45,-0.65,-0.6,-0.5,
  -0.5,-0.75,-0.8,-0.9, -0.95,-0.7,-0.75,-0.85, -0.9,-0.8,-0.85,-1.0, -1.0,-0.85,-0.75,-0.7,
  -0.75,-0.95,-0.9,-1.05, -0.85,-0.8,-1.1,-1.05, -0.85,-0.75,-0.9,-0.8, -0.65,-0.6,-0.55,-0.7,
  -0.85,-0.95,-0.9,-0.85, -0.8,-0.9,-0.85,-0.95, -0.75,-0.7,-0.6,-0.7, -0.55,-0.65,-0.7,-0.6,
  -0.75,-0.6,-0.55,-0.8, -0.9,-1.05,-1.1,-1.15];
const d_rss = [0.15,0.0,-0.1,0.0,-0.05,-0.1,-0.05,0.5, 0.8,0.65,0.45,0.3,
  -0.2,-0.4,-0.55,-0.45,-0.45,-0.55,-0.6,-0.55,-0.4,-0.3,-0.35,-0.35,-0.4,-0.45,-0.5,-0.4,
  0.95,0.8,0.45,0.35,
  -0.2,-0.65,-0.7,-0.65,-0.85,-0.8,-0.95,-0.7,-0.6,-0.95,-0.75,-0.65,-0.65,-0.75,-0.8,-1.15,-0.7,-0.6,-0.5,-0.65,
  -0.55,-0.8,-0.95,-0.75,-0.9,-0.85,-1.05,-0.8,-0.8,-1.0,-0.9,-1.15,-0.9,-0.95,-0.7,-0.65,-0.9,
  -0.95,-0.9,-1.0,-0.85,-0.75,-0.7,-0.75,-0.8,-0.7,-1.05,-1.25];
const d_uah = [0.1,-0.05,-0.1,-0.05,-0.05,-0.15,-0.05,0.45, 0.75,0.6,0.4,0.25,
  -0.25,-0.45,-0.6,-0.5,-0.5,-0.6,-0.65,-0.55,-0.45,-0.35,-0.4,-0.4,-0.45,-0.5,-0.5,-0.45,
  0.9,0.75,0.4,0.3,
  -0.25,-0.7,-0.75,-0.7,-0.9,-0.85,-1.0,-0.75,-0.65,-1.0,-0.8,-0.7,-0.7,-0.8,-0.85,-1.25,-0.75,-0.65,-0.55,-0.7,
  -0.6,-0.85,-1.0,-0.8,-0.95,-0.9,-1.1,-0.85,-0.85,-1.05,-0.95,-1.2,-0.95,-1.0,-0.75,-0.7,-0.95,
  -1.0,-0.95,-1.05,-0.9,-0.85,-0.75,-0.8,-0.85,-0.75,-1.1,-1.3];
const d_mean = [0.0,-0.03,0.0,-0.05,-0.03,-0.05,-0.05,0.05, 0.2,0.25,0.12,0.0,
  -0.2,-0.3,-0.3,-0.28,-0.27,-0.28,-0.27,-0.25,-0.25,-0.27,-0.27,-0.28,-0.27,-0.28,-0.3,-0.3,
  0.3,0.35,0.15,-0.05,
  -0.4,-0.55,-0.55,-0.55,-0.55,-0.57,-0.6,-0.58,-0.6,-0.55,-0.42,-0.45,-0.52,-0.55,-0.5,-0.52,-0.5,-0.5,
  -0.45,-0.48,-0.5,-0.52,-0.55,-0.58,-0.6,-0.6,-0.65,-0.65,-0.67,-0.68,-0.7,-0.7,-0.7,-0.7,-0.68,-0.67,-0.65];
const d_ccsrnies = [0.05,-0.05,0.1,0.0,-0.05,0.05,-0.1,0.0, 0.1,0.15,0.05,-0.05,
  -0.15,-0.2,-0.25,-0.15,-0.2,-0.1,-0.2,-0.15,-0.05,-0.2,-0.15,-0.1,-0.2,-0.15,-0.2,-0.25,
  0.1,0.2,0.0,-0.1,
  -0.25,-0.35,-0.4,-0.3,-0.35,-0.45,-0.4,-0.35,-0.45,-0.3,-0.25,-0.35,-0.4,-0.3,-0.35,-0.25,-0.3,-0.35,-0.2,-0.3,
  -0.35,-0.3,-0.4,-0.35,-0.45,-0.4,-0.35,-0.45,-0.4,-0.5,-0.45,-0.4,-0.35,-0.45,-0.4,-0.3,-0.35];
const d_cesm = [-0.05,0.1,0.0,-0.1,0.05,0.0,-0.05,0.2, 0.5,0.6,0.3,0.1,
  -0.1,-0.2,-0.25,-0.15,-0.3,-0.2,-0.25,-0.15,-0.2,-0.3,-0.2,-0.25,-0.3,-0.2,-0.25,-0.2,
  1.3,1.35,0.9,0.3,
  -0.2,-0.45,-0.3,-0.5,-0.35,-0.45,-0.55,-0.4,-0.5,-0.45,-0.3,-0.4,-0.5,-0.35,-0.45,-0.4,-0.3,-0.45,-0.15,-0.35,
  -0.4,-0.45,-0.35,-0.5,-0.45,-0.55,-0.5,-0.45,-0.6,-0.5,-0.55,-0.6,-0.5,-0.55,-0.45,-0.5,-0.4,
  -0.4,-0.45,-0.3,-0.5,-0.55,-0.5];
const d_cmam = [0.1,-0.05,0.0,-0.1,0.0,-0.05,-0.05,0.15, 0.4,0.5,0.25,0.05,
  -0.2,-0.3,-0.2,-0.35,-0.25,-0.3,-0.2,-0.3,-0.25,-0.2,-0.3,-0.25,-0.35,-0.25,-0.3,-0.25,
  1.1,1.2,0.7,0.2,
  -0.3,-0.5,-0.4,-0.55,-0.45,-0.5,-0.6,-0.45,-0.55,-0.5,-0.35,-0.45,-0.55,-0.4,-0.5,-0.45,-0.4,-0.5,-0.35,-0.45,
  -0.5,-0.55,-0.45,-0.6,-0.55,-0.65,-0.6,-0.55,-0.65,-0.6,-0.7,-0.65,-0.6,-0.7,-0.6,-0.65,-0.6];
const d_cnrm = [0.2,0.0,-0.05,0.05,-0.05,0.0,-0.05,0.6, 2.1,1.9,1.2,0.5,
  0.2,-0.1,-0.25,-0.2,-0.3,-0.25,-0.2,-0.3,-0.25,-0.2,-0.3,-0.25,-0.2,-0.3,-0.25,-0.1,
  2.45,2.1,1.5,0.9,
  0.1,-0.3,-0.45,-0.5,-0.45,-0.55,-0.5,-0.6,-0.5,-0.45,-0.4,-0.5,-0.45,-0.55,-0.5,-0.45,-0.5,-0.45,-0.4,-0.5,
  -0.45,-0.55,-0.5,-0.6,-0.55,-0.6,-0.65,-0.6,-0.7,-0.65,-0.6,-0.7,-0.65,-0.6,-0.55,-0.6,-0.55];
const d_emac47 = [0.0,-0.05,0.0,-0.1,0.0,-0.05,0.0,0.05, 0.15,0.2,0.1,-0.05,
  -0.25,-0.35,-0.3,-0.25,-0.35,-0.3,-0.25,-0.3,-0.35,-0.3,-0.25,-0.3,-0.35,-0.3,-0.3,-0.35,
  0.15,0.2,0.0,-0.2,
  -0.45,-0.6,-0.55,-0.5,-0.6,-0.55,-0.65,-0.6,-0.55,-0.5,-0.4,-0.5,-0.55,-0.5,-0.6,-0.5,-0.55,-0.45,-0.5,-0.55,
  -0.5,-0.6,-0.55,-0.6,-0.65,-0.6,-0.7,-0.65,-0.6,-0.7,-0.65,-0.7,-0.6,-0.65,-0.55,-0.5,-0.4,
  -0.2,-0.3];
const d_emac90 = [0.05,-0.05,0.0,-0.05,-0.1,0.0,-0.05,0.1, 0.3,0.35,0.15,0.0,
  -0.2,-0.3,-0.35,-0.25,-0.3,-0.25,-0.3,-0.2,-0.3,-0.25,-0.3,-0.35,-0.25,-0.3,-0.25,-0.3,
  0.55,0.7,0.3,0.0,
  -0.3,-0.5,-0.45,-0.55,-0.5,-0.6,-0.55,-0.5,-0.6,-0.5,-0.35,-0.45,-0.5,-0.45,-0.55,-0.5,-0.45,-0.5,-0.4,-0.45,
  -0.5,-0.55,-0.5,-0.6,-0.55,-0.65,-0.6,-0.65,-0.7,-0.6,-0.65,-0.7,-0.6,-0.65,-0.55,-0.5,-0.45];
const d_geos = [0.05,0.0,-0.05,0.0,-0.05,-0.1,0.0,0.1, 0.35,0.4,0.2,0.0,
  -0.2,-0.3,-0.25,-0.3,-0.2,-0.25,-0.3,-0.2,-0.25,-0.3,-0.25,-0.2,-0.3,-0.25,-0.3,-0.25,
  0.6,0.7,0.35,0.0,
  -0.35,-0.5,-0.45,-0.5,-0.55,-0.5,-0.6,-0.55,-0.5,-0.55,-0.4,-0.5,-0.45,-0.5,-0.45,-0.55,-0.5,-0.45,-0.4,-0.5,
  -0.45,-0.5,-0.55,-0.5,-0.6,-0.55,-0.6,-0.65,-0.6,-0.65,-0.7,-0.65,-0.7,-0.65,-0.6,-0.65,-0.6];
const d_hadgem = [0.0,-0.1,-0.05,-0.15,-0.05,-0.1,-0.15,-0.05, 0.05,0.1,0.0,-0.15,
  -0.3,-0.45,-0.5,-0.4,-0.55,-0.45,-0.5,-0.4,-0.45,-0.55,-0.45,-0.5,-0.4,-0.5,-0.45,-0.5,
  0.1,0.15,-0.1,-0.35,
  -0.6,-0.8,-0.85,-0.9,-0.8,-0.95,-0.9,-0.85,-1.0,-0.9,-0.75,-0.85,-0.95,-0.9,-1.0,-0.9,-0.95,-0.85,-0.8,-0.9,
  -0.85,-0.95,-0.9,-1.0,-0.95,-1.05,-1.0,-0.95,-1.1,-1.05,-1.15,-1.1,-1.2,-1.15,-1.3,-1.2,-1.25];
const d_mri = [0.0,-0.05,0.0,-0.1,-0.05,0.0,-0.1,0.0, 0.05,0.1,0.0,-0.1,
  -0.25,-0.35,-0.3,-0.35,-0.4,-0.3,-0.35,-0.4,-0.3,-0.35,-0.4,-0.35,-0.3,-0.4,-0.35,-0.4,
  -0.1,0.0,-0.3,-0.5,
  -0.65,-0.75,-0.7,-0.8,-0.75,-0.7,-0.8,-0.75,-0.85,-0.7,-0.6,-0.7,-0.75,-0.65,-0.7,-0.75,-0.7,-0.65,-0.6,-0.7,
  -0.65,-0.75,-0.7,-0.8,-0.75,-0.85,-0.8,-0.75,-0.85,-0.8,-0.9,-0.85,-0.8,-0.9,-0.85,-0.8,-0.75];
const d_niwa = [0.05,-0.05,0.0,-0.05,-0.1,-0.05,-0.1,-0.05, 0.0,0.05,-0.05,-0.15,
  -0.3,-0.4,-0.35,-0.45,-0.4,-0.35,-0.45,-0.4,-0.35,-0.45,-0.4,-0.45,-0.4,-0.5,-0.45,-0.5,
  -0.35,-0.3,-0.5,-0.65,
  -0.75,-0.85,-0.8,-0.9,-0.85,-0.8,-0.9,-0.85,-0.8,-0.75,-0.65,-0.75,-0.8,-0.7,-0.8,-0.75,-0.7,-0.8,-0.75,-0.7,
  -0.75,-0.8,-0.85,-0.8,-0.9,-0.85,-0.8,-0.9,-0.85,-0.95,-0.9,-0.85,-0.95,-0.9,-0.85,-0.9,-0.85];
const d_socol = [0.05,0.0,-0.05,0.05,0.0,-0.05,0.0,0.3, 0.85,0.8,0.45,0.15,
  -0.15,-0.25,-0.2,-0.3,-0.2,-0.15,-0.25,-0.2,-0.1,-0.25,-0.2,-0.15,-0.25,-0.2,-0.25,-0.2,
  1.5,1.65,1.35,0.85,
  0.0,-0.35,-0.4,-0.45,-0.4,-0.5,-0.45,-0.4,-0.5,-0.4,-0.25,-0.35,-0.45,-0.4,-0.35,-0.45,-0.4,-0.35,-0.3,-0.4,
  -0.35,-0.45,-0.4,-0.5,-0.45,-0.55,-0.5,-0.45,-0.55,-0.5,-0.6,-0.55,-0.5,-0.55,-0.5,-0.55,-0.5];
const d_ulaq = [0.0,-0.1,-0.05,-0.15,-0.1,-0.2,-0.15,-0.2, -0.3,-0.35,-0.5,-0.6,
  -1.0,-0.75,-0.7,-0.6,-0.55,-0.5,-0.45,-0.5,-0.4,-0.45,-0.35,-0.4,-0.35,-0.45,-0.4,-0.35,
  -0.2,-0.15,-0.3,-0.45,
  -0.6,-0.8,-0.95,-1.1,-1.05,-1.2,-1.1,-1.05,-1.2,-1.15,-1.5,-1.0,-0.95,-0.9,-1.05,-0.95,-0.85,-0.9,-0.8,-0.85,
  -0.9,-0.95,-0.85,-1.0,-0.95,-1.1,-1.05,-1.0,-1.15,-1.1,-1.2,-1.15,-1.25,-1.2,-1.1,-1.05,-1.0];
const d_umslim = [0.0,-0.05,-0.1,-0.05,-0.15,-0.1,-0.2,-0.25, -0.3,-0.4,-0.45,-0.5,
  -0.55,-0.5,-0.45,-0.5,-0.4,-0.45,-0.35,-0.4,-0.45,-0.35,-0.4,-0.35,-0.4,-0.45,-0.35,-0.45,
  -0.55,-0.6,-0.7,-0.75,
  -0.8,-0.85,-0.75,-0.8,-0.7,-0.75,-0.8,-0.7,-0.75,-0.65,-0.55,-0.7,-0.75,-0.65,-0.7,-0.6,-0.65,-0.7,-0.55,-0.65,
  -0.7,-0.75,-0.7,-0.8,-0.75,-0.85,-0.8,-0.75,-0.85,-0.8,-0.9,-0.85,-0.8,-0.9,-0.85,-0.7,-0.75,
  -0.8,-0.7,-0.75];

// ---- panel setup ----
const panels = [
  { title: '(a) SSU Ch. 3 (~40-50 km)', dom: [-3, 1.5],
    models: [a_ccsrnies, a_cesm, a_cmam, a_cnrm, a_emac47, a_emac90, a_geos, a_hadgem, a_mri, a_niwa, a_socol, a_ulaq, a_umslim],
    mean: a_mean, noaa: a_noaa, ukmo: a_ukmo },
  { title: '(b) SSU Ch. 2 (~35-45 km)', dom: [-3, 1.5],
    models: [b_ccsrnies, b_cesm, b_cmam, b_cnrm, b_emac47, b_emac90, b_geos, b_hadgem, b_mri, b_niwa, b_socol, b_ulaq, b_umslim],
    mean: b_mean, noaa: b_noaa, ukmo: b_ukmo },
  { title: '(c) SSU Ch. 1 (~25-35 km)', dom: [-3, 1.5],
    models: [c_ccsrnies, c_cesm, c_cmam, c_cnrm, c_emac47, c_emac90, c_geos, c_hadgem, c_mri, c_niwa, c_socol, c_ulaq, c_umslim],
    mean: c_mean, noaa: c_noaa, ukmo: c_ukmo },
  { title: '(d) MSU Ch. 4 (~13-22 km)', dom: [-1.5, 3],
    models: [d_ccsrnies, d_cesm, d_cmam, d_cnrm, d_emac47, d_emac90, d_geos, d_hadgem, d_mri, d_niwa, d_socol, d_ulaq, d_umslim],
    mean: d_mean, noaa: d_noaa, rss: d_rss, uah: d_uah }
];

const svg = d3.select('#chart');
const x = d3.scaleLinear().domain([1979, 2017]).range([100, 1033]);
const top0 = 265, ph = 302;
const axisCol = '#333';
const majorYears = d3.range(1979, 2017, 5);
const allYears = d3.range(1979, 2018, 1);

const lineFor = (t, y) => d3.line()
  .defined(d => d != null)
  .x((d, i) => x(t[i]))
  .y(d => y(d));

panels.forEach((p, k) => {
  const top = top0 + k * ph, bottom = top + ph;
  const y = d3.scaleLinear().domain(p.dom).range([bottom, top]);

  svg.append('clipPath').attr('id', 'clip' + k)
    .append('rect').attr('x', 100).attr('y', top).attr('width', 940).attr('height', ph);
  const plot = svg.append('g').attr('clip-path', `url(#clip${k})`);

  // zero reference
  plot.append('line')
    .attr('x1', 100).attr('x2', 1033).attr('y1', y(0)).attr('y2', y(0))
    .attr('stroke', '#666').attr('stroke-width', 1.6).attr('stroke-dasharray', '1.6,4.4');

  // models
  p.models.forEach((m, i) => {
    plot.append('path').datum(m)
      .attr('d', lineFor(tModel, y))
      .attr('fill', 'none').attr('stroke', modelColors[i])
      .attr('stroke-width', 1.3).attr('stroke-linejoin', 'round');
  });

  // multi-model mean
  plot.append('path').datum(p.mean)
    .attr('d', lineFor(tModel, y))
    .attr('fill', 'none').attr('stroke', '#a226f2')
    .attr('stroke-width', 5).attr('stroke-linejoin', 'round');

  if (p.ukmo) {
    plot.append('path').datum(p.ukmo)
      .attr('d', lineFor(tModel, y))
      .attr('fill', 'none').attr('stroke', '#000')
      .attr('stroke-width', 3.5).attr('stroke-dasharray', '11,8');
  }
  if (p.uah) {
    plot.append('path').datum(p.uah)
      .attr('d', lineFor(tLong, y))
      .attr('fill', 'none').attr('stroke', '#000')
      .attr('stroke-width', 2.6).attr('stroke-dasharray', '9,4,2,4');
  }
  if (p.rss) {
    plot.append('path').datum(p.rss)
      .attr('d', lineFor(tLong, y))
      .attr('fill', 'none').attr('stroke', '#000')
      .attr('stroke-width', 2.6).attr('stroke-dasharray', '9,6');
  }

  // observations
  plot.append('path').datum(p.noaa)
    .attr('d', lineFor(tObs, y))
    .attr('fill', 'none').attr('stroke', '#000')
    .attr('stroke-width', k === 3 ? 3.2 : 4.2).attr('stroke-linejoin', 'round');

  // title
  svg.append('text')
    .attr('x', 566.5).attr('y', top + 43)
    .attr('text-anchor', 'middle').attr('font-size', 30)
    .text(p.title);

  // y axis
  const majY = d3.range(Math.ceil(p.dom[0]), p.dom[1] + 0.01, 1).filter(v => v > p.dom[0] && v < p.dom[1]);
  const minY = d3.range(p.dom[0], p.dom[1] + 0.01, 0.5);
  const yMinor = svg.append('g').attr('transform', 'translate(100,0)')
    .call(d3.axisLeft(y).tickValues(minY).tickSize(4).tickFormat(''));
  const yMajor = svg.append('g').attr('transform', 'translate(100,0)')
    .call(d3.axisLeft(y).tickValues(majY).tickSize(7).tickSizeOuter(0).tickPadding(9).tickFormat(d => String(d)));
  [yMinor, yMajor].forEach(g => {
    g.selectAll('line').attr('stroke', axisCol).attr('stroke-width', 1.3);
    g.select('.domain').attr('stroke', axisCol).attr('stroke-width', 1.5);
  });
  yMajor.selectAll('text').attr('font-size', 23).attr('fill', '#111')
    .attr('font-family', '"Liberation Sans", Arial, sans-serif');

  // x axes top and bottom of panel
  [[d3.axisTop, top], [d3.axisBottom, bottom]].forEach(([ax, yy]) => {
    const gMin = svg.append('g').attr('transform', `translate(0,${yy})`)
      .call(ax(x).tickValues(allYears).tickSize(4).tickSizeOuter(0).tickFormat(''));
    const gMaj = svg.append('g').attr('transform', `translate(0,${yy})`)
      .call(ax(x).tickValues(majorYears).tickSize(7).tickSizeOuter(0).tickPadding(12)
        .tickFormat(k === 3 && ax === d3.axisBottom ? d => String(d) : ''));
    [gMin, gMaj].forEach(g => {
      g.selectAll('line').attr('stroke', axisCol).attr('stroke-width', 1.3);
      g.select('.domain').attr('stroke', axisCol).attr('stroke-width', 1.5);
    });
    gMaj.selectAll('text').attr('font-size', 23).attr('fill', '#111')
      .attr('font-family', '"Liberation Sans", Arial, sans-serif');
  });

  // y label
  svg.append('text')
    .attr('transform', `translate(29,${(top + bottom) / 2}) rotate(-90)`)
    .attr('text-anchor', 'middle').attr('font-size', 23)
    .text('Temp anom [K]');
});

svg.append('text').attr('x', 566.5).attr('y', 1546)
  .attr('text-anchor', 'middle').attr('font-size', 23).text('Year');

// ---- top legends ----
const legendBoxes = [
  { x: 194.5, y: 7.5, w: 393, h: 219, lx: 221, tx: 299, y0: 40, items: d3.range(0, 7) },
  { x: 637.5, y: 7.5, w: 303, h: 191, lx: 665, tx: 742, y0: 39, items: d3.range(7, 13) }
];
legendBoxes.forEach(b => {
  svg.append('rect').attr('x', b.x).attr('y', b.y).attr('width', b.w).attr('height', b.h)
    .attr('fill', '#fff').attr('stroke', '#444').attr('stroke-width', 1.2);
  b.items.forEach((idx, j) => {
    const yy = b.y0 + j * 27.3;
    svg.append('line').attr('x1', b.lx).attr('x2', b.lx + 55).attr('y1', yy).attr('y2', yy)
      .attr('stroke', modelColors[idx]).attr('stroke-width', 3);
    svg.append('text').attr('x', b.tx).attr('y', yy + 8).attr('font-size', 23).text(modelNames[idx]);
  });
});

// ---- observation legends in panels (c) and (d) ----
const obsLegC = [
  { label: 'NOAA/STAR v3.0', color: '#000', w: 3.5, dash: null },
  { label: 'UK Met Office', color: '#000', w: 3.5, dash: '11,8' },
  { label: 'Multi-model mean', color: '#a226f2', w: 4, dash: null }
];
obsLegC.forEach((d, j) => {
  const yy = 1077 + j * 27;
  svg.append('line').attr('x1', 128).attr('x2', 183).attr('y1', yy).attr('y2', yy)
    .attr('stroke', d.color).attr('stroke-width', d.w).attr('stroke-dasharray', d.dash);
  svg.append('text').attr('x', 205).attr('y', yy + 8).attr('font-size', 23).text(d.label);
});
const obsLegD = [
  { label: 'NOAA/STAR v4.0', color: '#000', w: 3.5, dash: null },
  { label: 'RSS v3.3', color: '#000', w: 3.5, dash: '11,8' },
  { label: 'UAH v6.0', color: '#000', w: 3.5, dash: '11,5,3,5,3,5' },
  { label: 'Multi-model mean', color: '#a226f2', w: 4, dash: null }
];
obsLegD.forEach((d, j) => {
  const yy = 1241 + j * 27.3;
  svg.append('line').attr('x1', 756).attr('x2', 810).attr('y1', yy).attr('y2', yy)
    .attr('stroke', d.color).attr('stroke-width', d.w).attr('stroke-dasharray', d.dash);
  svg.append('text').attr('x', 833).attr('y', yy + 8).attr('font-size', 23).text(d.label);
});
</script>
</body>
</html>
